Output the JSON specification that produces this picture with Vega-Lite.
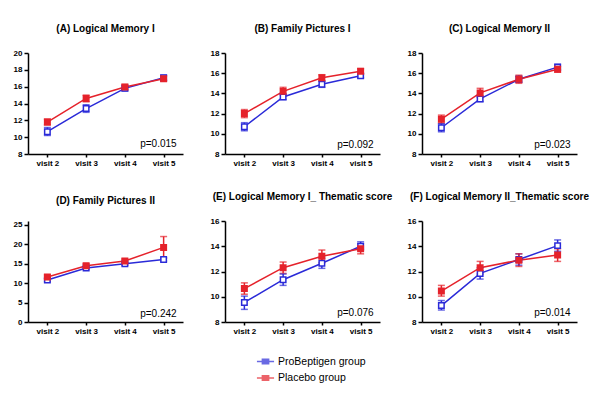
{
  "$schema": "https://vega.github.io/schema/vega-lite/v6.json",
  "padding": {"left": 13, "top": 24, "right": 5, "bottom": 5},
  "background": "white",
  "bounds": "flush",
  "datasets": {
    "scores": [
      {"panel": "A", "group": "ProBeptigen group", "visit": "visit 2", "mean": 10.65, "lo": 10.2, "hi": 11.15},
      {"panel": "A", "group": "ProBeptigen group", "visit": "visit 3", "mean": 13.4, "lo": 12.95, "hi": 13.85},
      {"panel": "A", "group": "ProBeptigen group", "visit": "visit 4", "mean": 15.8, "lo": 15.5, "hi": 16.1},
      {"panel": "A", "group": "ProBeptigen group", "visit": "visit 5", "mean": 17.05, "lo": 16.75, "hi": 17.35},
      {"panel": "B", "group": "ProBeptigen group", "visit": "visit 2", "mean": 10.7, "lo": 10.3, "hi": 11.1},
      {"panel": "B", "group": "ProBeptigen group", "visit": "visit 3", "mean": 13.65, "lo": 13.4, "hi": 13.95},
      {"panel": "B", "group": "ProBeptigen group", "visit": "visit 4", "mean": 14.9, "lo": 14.6, "hi": 15.2},
      {"panel": "B", "group": "ProBeptigen group", "visit": "visit 5", "mean": 15.75, "lo": 15.55, "hi": 15.95},
      {"panel": "C", "group": "ProBeptigen group", "visit": "visit 2", "mean": 10.6, "lo": 10.2, "hi": 11.0},
      {"panel": "C", "group": "ProBeptigen group", "visit": "visit 3", "mean": 13.45, "lo": 13.2, "hi": 13.7},
      {"panel": "C", "group": "ProBeptigen group", "visit": "visit 4", "mean": 15.4, "lo": 15.1, "hi": 15.7},
      {"panel": "C", "group": "ProBeptigen group", "visit": "visit 5", "mean": 16.6, "lo": 16.3, "hi": 16.9},
      {"panel": "D", "group": "ProBeptigen group", "visit": "visit 2", "mean": 10.8, "lo": 10.4, "hi": 11.2},
      {"panel": "D", "group": "ProBeptigen group", "visit": "visit 3", "mean": 13.9, "lo": 13.5, "hi": 14.3},
      {"panel": "D", "group": "ProBeptigen group", "visit": "visit 4", "mean": 15.0, "lo": 14.6, "hi": 15.4},
      {"panel": "D", "group": "ProBeptigen group", "visit": "visit 5", "mean": 16.1, "lo": 15.7, "hi": 16.5},
      {"panel": "E", "group": "ProBeptigen group", "visit": "visit 2", "mean": 9.55, "lo": 9.0, "hi": 10.05},
      {"panel": "E", "group": "ProBeptigen group", "visit": "visit 3", "mean": 11.35, "lo": 10.9, "hi": 11.8},
      {"panel": "E", "group": "ProBeptigen group", "visit": "visit 4", "mean": 12.65, "lo": 12.25, "hi": 13.05},
      {"panel": "E", "group": "ProBeptigen group", "visit": "visit 5", "mean": 14.0, "lo": 13.7, "hi": 14.35},
      {"panel": "F", "group": "ProBeptigen group", "visit": "visit 2", "mean": 9.3, "lo": 8.95, "hi": 9.7},
      {"panel": "F", "group": "ProBeptigen group", "visit": "visit 3", "mean": 11.85, "lo": 11.4, "hi": 12.3},
      {"panel": "F", "group": "ProBeptigen group", "visit": "visit 4", "mean": 12.95, "lo": 12.5, "hi": 13.4},
      {"panel": "F", "group": "ProBeptigen group", "visit": "visit 5", "mean": 14.05, "lo": 13.6, "hi": 14.5},
      {"panel": "A", "group": "Placebo group", "visit": "visit 2", "mean": 11.8, "lo": 11.45, "hi": 12.15},
      {"panel": "A", "group": "Placebo group", "visit": "visit 3", "mean": 14.6, "lo": 14.2, "hi": 15.0},
      {"panel": "A", "group": "Placebo group", "visit": "visit 4", "mean": 15.95, "lo": 15.65, "hi": 16.25},
      {"panel": "A", "group": "Placebo group", "visit": "visit 5", "mean": 16.95, "lo": 16.65, "hi": 17.25},
      {"panel": "B", "group": "Placebo group", "visit": "visit 2", "mean": 12.0, "lo": 11.6, "hi": 12.4},
      {"panel": "B", "group": "Placebo group", "visit": "visit 3", "mean": 14.2, "lo": 13.85, "hi": 14.6},
      {"panel": "B", "group": "Placebo group", "visit": "visit 4", "mean": 15.55, "lo": 15.25, "hi": 15.85},
      {"panel": "B", "group": "Placebo group", "visit": "visit 5", "mean": 16.2, "lo": 15.95, "hi": 16.45},
      {"panel": "C", "group": "Placebo group", "visit": "visit 2", "mean": 11.45, "lo": 11.05, "hi": 11.85},
      {"panel": "C", "group": "Placebo group", "visit": "visit 3", "mean": 14.05, "lo": 13.6, "hi": 14.5},
      {"panel": "C", "group": "Placebo group", "visit": "visit 4", "mean": 15.4, "lo": 15.0, "hi": 15.8},
      {"panel": "C", "group": "Placebo group", "visit": "visit 5", "mean": 16.4, "lo": 16.1, "hi": 16.7},
      {"panel": "D", "group": "Placebo group", "visit": "visit 2", "mean": 11.6, "lo": 11.1, "hi": 12.1},
      {"panel": "D", "group": "Placebo group", "visit": "visit 3", "mean": 14.5, "lo": 14.0, "hi": 15.0},
      {"panel": "D", "group": "Placebo group", "visit": "visit 4", "mean": 15.7, "lo": 15.2, "hi": 16.2},
      {"panel": "D", "group": "Placebo group", "visit": "visit 5", "mean": 19.2, "lo": 16.5, "hi": 22.0},
      {"panel": "E", "group": "Placebo group", "visit": "visit 2", "mean": 10.65, "lo": 10.2, "hi": 11.1},
      {"panel": "E", "group": "Placebo group", "visit": "visit 3", "mean": 12.3, "lo": 11.85, "hi": 12.75},
      {"panel": "E", "group": "Placebo group", "visit": "visit 4", "mean": 13.2, "lo": 12.7, "hi": 13.7},
      {"panel": "E", "group": "Placebo group", "visit": "visit 5", "mean": 13.8, "lo": 13.4, "hi": 14.2},
      {"panel": "F", "group": "Placebo group", "visit": "visit 2", "mean": 10.45, "lo": 10.05, "hi": 10.9},
      {"panel": "F", "group": "Placebo group", "visit": "visit 3", "mean": 12.3, "lo": 11.8, "hi": 12.8},
      {"panel": "F", "group": "Placebo group", "visit": "visit 4", "mean": 12.9, "lo": 12.4, "hi": 13.4},
      {"panel": "F", "group": "Placebo group", "visit": "visit 5", "mean": 13.3, "lo": 12.8, "hi": 13.8}
    ],
    "pvals": [
      {"panel": "A", "label": "p=0.015"},
      {"panel": "B", "label": "p=0.092"},
      {"panel": "C", "label": "p=0.023"},
      {"panel": "D", "label": "p=0.242"},
      {"panel": "E", "label": "p=0.076"},
      {"panel": "F", "label": "p=0.014"}
    ]
  },
  "columns": 3,
  "spacing": {"column": 42, "row": 67},
  "concat": [
    {
      "title": "(A) Logical Memory I",
      "width": 155, "height": 101,
      "layer": [
        {
          "data": {"name": "scores"},
          "transform": [{"filter": "datum.panel === 'A'"}],
          "encoding": {
            "x": {"field": "visit", "type": "ordinal", "scale": {"type": "point", "padding": 0.5}, "axis": {"title": null, "labelAngle": 0}},
            "y": {"field": "mean", "type": "quantitative", "scale": {"domain": [8, 20]}, "axis": {"title": null, "values": [8, 10, 12, 14, 16, 18, 20]}},
            "color": {"field": "group", "type": "nominal", "scale": {"domain": ["ProBeptigen group", "Placebo group"], "range": ["#2a2ad8", "#e5222b"]}, "legend": {"title": null, "orient": "none", "legendX": 231, "legendY": 302, "symbolType": "M-1.5,0H1.5M-0.55,-0.4H0.55V0.4H-0.55Z", "symbolSize": 130, "symbolStrokeWidth": 1.5, "labelFontSize": 10.5, "labelOffset": 6, "rowPadding": 4.5, "labelColor": "black"}}
          },
          "layer": [
            {"mark": {"type": "line", "strokeWidth": 1.5}},
            {"mark": {"type": "rule", "strokeWidth": 1.5}, "encoding": {"y": {"field": "lo", "type": "quantitative", "axis": {"title": null, "values": [8, 10, 12, 14, 16, 18, 20]}}, "y2": {"field": "hi"}}},
            {"mark": {"type": "tick", "size": 7, "thickness": 1.5}, "encoding": {"y": {"field": "lo", "type": "quantitative", "axis": {"title": null, "values": [8, 10, 12, 14, 16, 18, 20]}}}},
            {"mark": {"type": "tick", "size": 7, "thickness": 1.5}, "encoding": {"y": {"field": "hi", "type": "quantitative", "axis": {"title": null, "values": [8, 10, 12, 14, 16, 18, 20]}}}},
            {"mark": {"type": "point", "shape": "square", "size": 30, "strokeWidth": 1.5, "opacity": 1, "filled": false}, "encoding": {"fill": {"field": "group", "type": "nominal", "scale": {"domain": ["ProBeptigen group", "Placebo group"], "range": ["#ffffff", "#e5222b"]}, "legend": {"title": null, "orient": "none", "legendX": 231, "legendY": 302, "symbolType": "M-1.5,0H1.5M-0.55,-0.4H0.55V0.4H-0.55Z", "symbolSize": 130, "symbolStrokeWidth": 1.5, "labelFontSize": 10.5, "labelOffset": 6, "rowPadding": 4.5, "labelColor": "black"}}}}
          ]
        },
        {
          "data": {"name": "pvals"},
          "transform": [{"filter": "datum.panel === 'A'"}],
          "mark": {"type": "text", "align": "right", "dx": 13, "fontSize": 10, "color": "black"},
          "encoding": {"x": {"datum": "visit 5"}, "y": {"datum": 9.2, "axis": {"title": null, "values": [8, 10, 12, 14, 16, 18, 20]}}, "text": {"field": "label"}}
        }
      ]
    },
    {
      "title": "(B) Family Pictures I",
      "width": 155, "height": 101,
      "layer": [
        {
          "data": {"name": "scores"},
          "transform": [{"filter": "datum.panel === 'B'"}],
          "encoding": {
            "x": {"field": "visit", "type": "ordinal", "scale": {"type": "point", "padding": 0.5}, "axis": {"title": null, "labelAngle": 0}},
            "y": {"field": "mean", "type": "quantitative", "scale": {"domain": [8, 18]}, "axis": {"title": null, "values": [8, 10, 12, 14, 16, 18]}},
            "color": {"field": "group", "type": "nominal"}
          },
          "layer": [
            {"mark": {"type": "line", "strokeWidth": 1.5}},
            {"mark": {"type": "rule", "strokeWidth": 1.5}, "encoding": {"y": {"field": "lo", "type": "quantitative", "axis": {"title": null, "values": [8, 10, 12, 14, 16, 18]}}, "y2": {"field": "hi"}}},
            {"mark": {"type": "tick", "size": 7, "thickness": 1.5}, "encoding": {"y": {"field": "lo", "type": "quantitative", "axis": {"title": null, "values": [8, 10, 12, 14, 16, 18]}}}},
            {"mark": {"type": "tick", "size": 7, "thickness": 1.5}, "encoding": {"y": {"field": "hi", "type": "quantitative", "axis": {"title": null, "values": [8, 10, 12, 14, 16, 18]}}}},
            {"mark": {"type": "point", "shape": "square", "size": 30, "strokeWidth": 1.5, "opacity": 1, "filled": false}, "encoding": {"fill": {"field": "group", "type": "nominal"}}}
          ]
        },
        {
          "data": {"name": "pvals"},
          "transform": [{"filter": "datum.panel === 'B'"}],
          "mark": {"type": "text", "align": "right", "dx": 13, "fontSize": 10, "color": "black"},
          "encoding": {"x": {"datum": "visit 5"}, "y": {"datum": 8.9, "axis": {"title": null, "values": [8, 10, 12, 14, 16, 18]}}, "text": {"field": "label"}}
        }
      ]
    },
    {
      "title": "(C) Logical Memory II",
      "width": 155, "height": 101,
      "layer": [
        {
          "data": {"name": "scores"},
          "transform": [{"filter": "datum.panel === 'C'"}],
          "encoding": {
            "x": {"field": "visit", "type": "ordinal", "scale": {"type": "point", "padding": 0.5}, "axis": {"title": null, "labelAngle": 0}},
            "y": {"field": "mean", "type": "quantitative", "scale": {"domain": [8, 18]}, "axis": {"title": null, "values": [8, 10, 12, 14, 16, 18]}},
            "color": {"field": "group", "type": "nominal"}
          },
          "layer": [
            {"mark": {"type": "line", "strokeWidth": 1.5}},
            {"mark": {"type": "rule", "strokeWidth": 1.5}, "encoding": {"y": {"field": "lo", "type": "quantitative", "axis": {"title": null, "values": [8, 10, 12, 14, 16, 18]}}, "y2": {"field": "hi"}}},
            {"mark": {"type": "tick", "size": 7, "thickness": 1.5}, "encoding": {"y": {"field": "lo", "type": "quantitative", "axis": {"title": null, "values": [8, 10, 12, 14, 16, 18]}}}},
            {"mark": {"type": "tick", "size": 7, "thickness": 1.5}, "encoding": {"y": {"field": "hi", "type": "quantitative", "axis": {"title": null, "values": [8, 10, 12, 14, 16, 18]}}}},
            {"mark": {"type": "point", "shape": "square", "size": 30, "strokeWidth": 1.5, "opacity": 1, "filled": false}, "encoding": {"fill": {"field": "group", "type": "nominal"}}}
          ]
        },
        {
          "data": {"name": "pvals"},
          "transform": [{"filter": "datum.panel === 'C'"}],
          "mark": {"type": "text", "align": "right", "dx": 13, "fontSize": 10, "color": "black"},
          "encoding": {"x": {"datum": "visit 5"}, "y": {"datum": 8.9, "axis": {"title": null, "values": [8, 10, 12, 14, 16, 18]}}, "text": {"field": "label"}}
        }
      ]
    },
    {
      "title": "(D) Family Pictures II",
      "width": 155, "height": 101,
      "layer": [
        {
          "data": {"name": "scores"},
          "transform": [{"filter": "datum.panel === 'D'"}],
          "encoding": {
            "x": {"field": "visit", "type": "ordinal", "scale": {"type": "point", "padding": 0.5}, "axis": {"title": null, "labelAngle": 0}},
            "y": {"field": "mean", "type": "quantitative", "scale": {"domain": [0, 25]}, "axis": {"title": null, "values": [0, 5, 10, 15, 20, 25]}},
            "color": {"field": "group", "type": "nominal"}
          },
          "layer": [
            {"mark": {"type": "line", "strokeWidth": 1.5}},
            {"mark": {"type": "rule", "strokeWidth": 1.5}, "encoding": {"y": {"field": "lo", "type": "quantitative", "axis": {"title": null, "values": [0, 5, 10, 15, 20, 25]}}, "y2": {"field": "hi"}}},
            {"mark": {"type": "tick", "size": 7, "thickness": 1.5}, "encoding": {"y": {"field": "lo", "type": "quantitative", "axis": {"title": null, "values": [0, 5, 10, 15, 20, 25]}}}},
            {"mark": {"type": "tick", "size": 7, "thickness": 1.5}, "encoding": {"y": {"field": "hi", "type": "quantitative", "axis": {"title": null, "values": [0, 5, 10, 15, 20, 25]}}}},
            {"mark": {"type": "point", "shape": "square", "size": 30, "strokeWidth": 1.5, "opacity": 1, "filled": false}, "encoding": {"fill": {"field": "group", "type": "nominal"}}}
          ]
        },
        {
          "data": {"name": "pvals"},
          "transform": [{"filter": "datum.panel === 'D'"}],
          "mark": {"type": "text", "align": "right", "dx": 13, "fontSize": 10, "color": "black"},
          "encoding": {"x": {"datum": "visit 5"}, "y": {"datum": 2.0, "axis": {"title": null, "values": [0, 5, 10, 15, 20, 25]}}, "text": {"field": "label"}}
        }
      ]
    },
    {
      "title": "(E) Logical Memory I_ Thematic score",
      "width": 155, "height": 101,
      "layer": [
        {
          "data": {"name": "scores"},
          "transform": [{"filter": "datum.panel === 'E'"}],
          "encoding": {
            "x": {"field": "visit", "type": "ordinal", "scale": {"type": "point", "padding": 0.5}, "axis": {"title": null, "labelAngle": 0}},
            "y": {"field": "mean", "type": "quantitative", "scale": {"domain": [8, 16]}, "axis": {"title": null, "values": [8, 10, 12, 14, 16]}},
            "color": {"field": "group", "type": "nominal"}
          },
          "layer": [
            {"mark": {"type": "line", "strokeWidth": 1.5}},
            {"mark": {"type": "rule", "strokeWidth": 1.5}, "encoding": {"y": {"field": "lo", "type": "quantitative", "axis": {"title": null, "values": [8, 10, 12, 14, 16]}}, "y2": {"field": "hi"}}},
            {"mark": {"type": "tick", "size": 7, "thickness": 1.5}, "encoding": {"y": {"field": "lo", "type": "quantitative", "axis": {"title": null, "values": [8, 10, 12, 14, 16]}}}},
            {"mark": {"type": "tick", "size": 7, "thickness": 1.5}, "encoding": {"y": {"field": "hi", "type": "quantitative", "axis": {"title": null, "values": [8, 10, 12, 14, 16]}}}},
            {"mark": {"type": "point", "shape": "square", "size": 30, "strokeWidth": 1.5, "opacity": 1, "filled": false}, "encoding": {"fill": {"field": "group", "type": "nominal"}}}
          ]
        },
        {
          "data": {"name": "pvals"},
          "transform": [{"filter": "datum.panel === 'E'"}],
          "mark": {"type": "text", "align": "right", "dx": 13, "fontSize": 10, "color": "black"},
          "encoding": {"x": {"datum": "visit 5"}, "y": {"datum": 8.7, "axis": {"title": null, "values": [8, 10, 12, 14, 16]}}, "text": {"field": "label"}}
        }
      ]
    },
    {
      "title": "(F) Logical Memory II_Thematic score",
      "width": 155, "height": 101,
      "layer": [
        {
          "data": {"name": "scores"},
          "transform": [{"filter": "datum.panel === 'F'"}],
          "encoding": {
            "x": {"field": "visit", "type": "ordinal", "scale": {"type": "point", "padding": 0.5}, "axis": {"title": null, "labelAngle": 0}},
            "y": {"field": "mean", "type": "quantitative", "scale": {"domain": [8, 16]}, "axis": {"title": null, "values": [8, 10, 12, 14, 16]}},
            "color": {"field": "group", "type": "nominal"}
          },
          "layer": [
            {"mark": {"type": "line", "strokeWidth": 1.5}},
            {"mark": {"type": "rule", "strokeWidth": 1.5}, "encoding": {"y": {"field": "lo", "type": "quantitative", "axis": {"title": null, "values": [8, 10, 12, 14, 16]}}, "y2": {"field": "hi"}}},
            {"mark": {"type": "tick", "size": 7, "thickness": 1.5}, "encoding": {"y": {"field": "lo", "type": "quantitative", "axis": {"title": null, "values": [8, 10, 12, 14, 16]}}}},
            {"mark": {"type": "tick", "size": 7, "thickness": 1.5}, "encoding": {"y": {"field": "hi", "type": "quantitative", "axis": {"title": null, "values": [8, 10, 12, 14, 16]}}}},
            {"mark": {"type": "point", "shape": "square", "size": 30, "strokeWidth": 1.5, "opacity": 1, "filled": false}, "encoding": {"fill": {"field": "group", "type": "nominal"}}}
          ]
        },
        {
          "data": {"name": "pvals"},
          "transform": [{"filter": "datum.panel === 'F'"}],
          "mark": {"type": "text", "align": "right", "dx": 13, "fontSize": 10, "color": "black"},
          "encoding": {"x": {"datum": "visit 5"}, "y": {"datum": 8.7, "axis": {"title": null, "values": [8, 10, 12, 14, 16]}}, "text": {"field": "label"}}
        }
      ]
    }
  ],
  "config": {
    "font": "Liberation Sans",
    "view": {"stroke": null},
    "axis": {"domainColor": "black", "domainWidth": 1.5, "tickColor": "black", "tickWidth": 1.5, "tickSize": 4, "labelFontSize": 8, "labelFontWeight": "bold", "labelColor": "black", "grid": false, "labelPadding": 2, "labelOverlap": false},
    "axisX": {"tickSize": 3},
    "title": {"fontSize": 10, "fontWeight": "bold", "anchor": "middle", "offset": 15, "color": "black"}
  }
}
